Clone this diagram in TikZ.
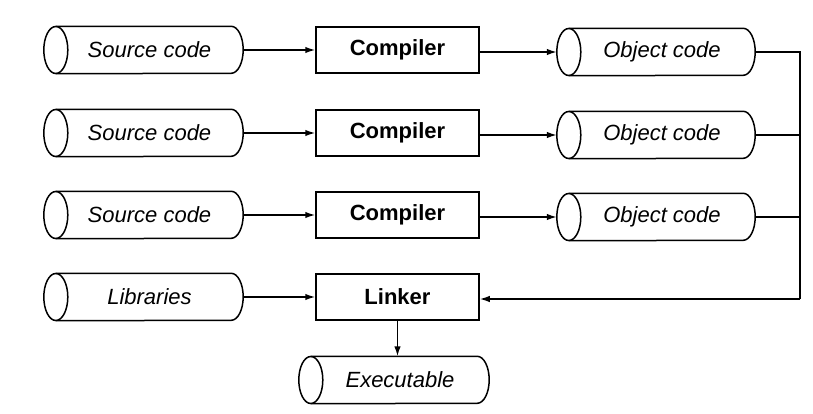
\documentclass[tikz,border=0pt]{standalone}
\usepackage{fontspec}
\setmainfont{Liberation Sans}
\usetikzlibrary{arrows.meta}
\newcommand\drumoutline[1]{%
  \draw[line width=1.5pt] ([xshift=12pt]#1.north west) -- ([xshift=-12pt]#1.north east)
    arc[start angle=90, end angle=-90, x radius=12pt, y radius=23.5pt]
    -- ([xshift=12pt]#1.south west);
  \draw[line width=1.5pt] ([xshift=12pt]#1.west) ellipse[x radius=12pt, y radius=23.5pt];}
\begin{document}
\begin{tikzpicture}[x=1pt,y=-1pt,
  store/.style={rectangle, minimum height=47pt, inner sep=0pt,
    font=\fontsize{22}{26}\selectfont\itshape, execute at begin node={\hspace*{12pt}}},
  srcstore/.style={store, minimum width=199pt},
  objstore/.style={store, minimum width=198pt},
  exestore/.style={store, minimum width=190pt},
  tool/.style={draw, rectangle, line width=1.5pt, minimum width=163pt, minimum height=46pt,
    inner sep=0pt, font=\fontsize{22}{26}\selectfont\bfseries},
  flow/.style={line width=1.5pt, -{Latex[length=10pt,width=6.5pt]}},
  link/.style={line width=1.5pt}
]
\useasboundingbox (0,0) rectangle (813,414);

\node[srcstore] (s1) at (143.5,50) {Source code};
\node[srcstore] (s2) at (143.5,133) {Source code};
\node[srcstore] (s3) at (143.5,215) {Source code};
\node[srcstore] (lib) at (143.5,297) {Libraries};

\node[tool] (c1) at (397.5,50) {Compiler};
\node[tool] (c2) at (397.5,133) {Compiler};
\node[tool] (c3) at (397.5,215) {Compiler};
\node[tool] (lk) at (397.5,297) {Linker};

\node[objstore] (o1) at (656,52) {Object code};
\node[objstore] (o2) at (656,135) {Object code};
\node[objstore] (o3) at (656,217) {Object code};

\node[exestore] (exe) at (394,380) {Executable};

\drumoutline{s1}
\drumoutline{s2}
\drumoutline{s3}
\drumoutline{lib}
\drumoutline{o1}
\drumoutline{o2}
\drumoutline{o3}
\drumoutline{exe}

\coordinate (b1) at (800,52);
\coordinate (b2) at (800,135);
\coordinate (b3) at (800,217);
\coordinate (b4) at (800,299);

\draw[flow] (s1.east) -- (c1.west);
\draw[flow] (s2.east) -- (c2.west);
\draw[flow] (s3.east) -- (c3.west);
\draw[flow] (lib.east) -- (lk.west);

\draw[flow] (c1.east |- o1.west) -- (o1.west);
\draw[flow] (c2.east |- o2.west) -- (o2.west);
\draw[flow] (c3.east |- o3.west) -- (o3.west);

\draw[link] (o1.east) -- (b1) -- (b4);
\draw[link] (o2.east) -- (b2);
\draw[link] (o3.east) -- (b3);
\draw[flow] (b4) -- (lk.east |- b4);

\draw[flow] (lk.south) -- (lk.south |- exe.north);
\end{tikzpicture}
\end{document}
